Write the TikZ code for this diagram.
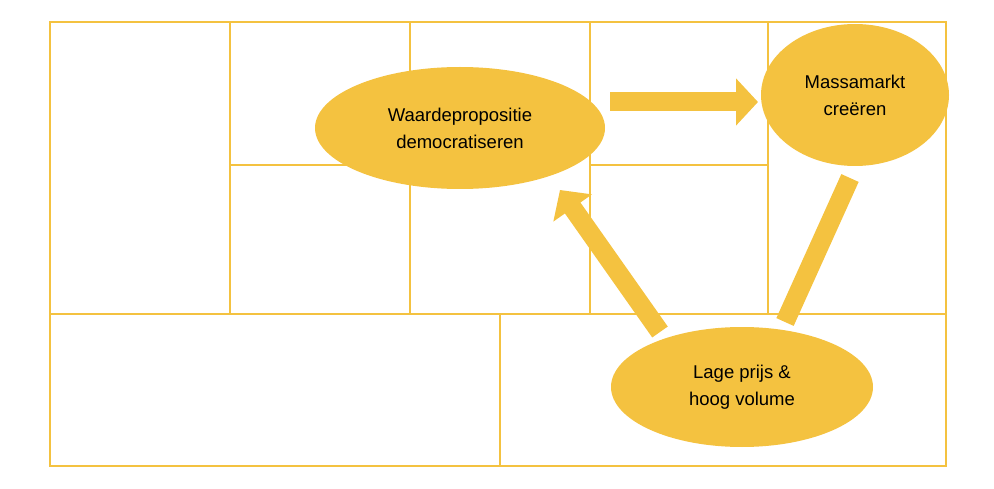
\documentclass[tikz,border=0pt]{standalone}
\usepackage{fontspec}
\setmainfont{Liberation Sans}
\usetikzlibrary{shapes.geometric,arrows.meta}
\definecolor{gold}{RGB}{244,194,64}
\tikzset{
  cell/.style={draw=gold, line width=2pt},
  blob/.style={ellipse, fill=gold, align=center, font=\fontsize{18.5}{27}\selectfont},
  fatarrow/.style={draw=gold, line width=19pt, -{Triangle[length=22pt, width=46pt]}},
  fatbar/.style={draw=gold, line width=19pt}
}
\begin{document}
\begin{tikzpicture}[x=1pt, y=-1pt]
\useasboundingbox (0,0) rectangle (994,489);
% canvas grid
\draw[cell] (50,22) rectangle (946,466);
\draw[cell] (50,314) -- (946,314);
\draw[cell] (500,314) -- (500,466);
\foreach \xx in {230,410,590,768} \draw[cell] (\xx,22) -- (\xx,314);
\draw[cell] (230,165) -- (410,165);
\draw[cell] (590,165) -- (768,165);
% bubbles
\node[blob, minimum width=290pt, minimum height=122pt] (waarde) at (460,128) {Waardepropositie\\democratiseren};
\node[blob, minimum width=188pt, minimum height=142pt] (massa) at (855,95) {Massamarkt\\creëren};
\node[blob, minimum width=262pt, minimum height=120pt] (prijs) at (742,387) {Lage prijs \&\\hoog volume};
% arrows
\coordinate (a1) at (610,102);
\coordinate (a2) at (758,102);
\draw[fatarrow] (a1) -- (a2);
\coordinate (b1) at (785,322);
\coordinate (b2) at (850,178);
\draw[fatbar] (b1) -- (b2);
\coordinate (c1) at (660,332);
\coordinate (c2) at (560,190);
\draw[fatarrow] (c1) -- (c2);
\end{tikzpicture}
\end{document}
